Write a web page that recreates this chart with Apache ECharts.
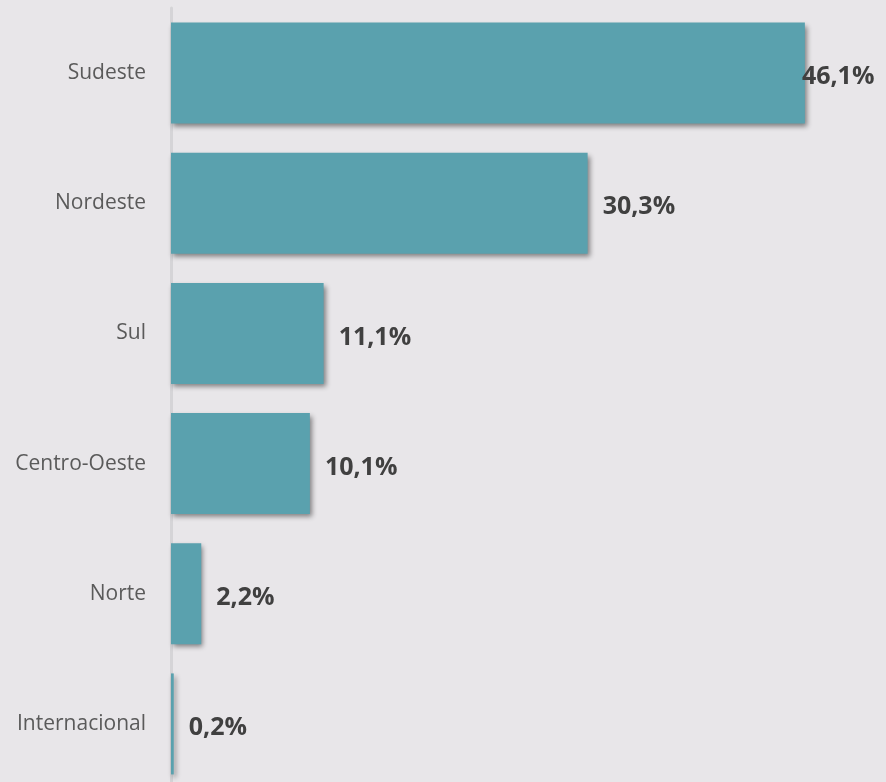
<!DOCTYPE html>
<html>
<head>
<meta charset="utf-8">
<script src="https://cdn.jsdelivr.net/npm/echarts@6/dist/echarts.min.js"></script>
<style>
  html, body { margin: 0; padding: 0; background: #e8e6e9; }
  #chart { width: 886px; height: 782px; }
</style>
</head>
<body>
<div id="chart"></div>
<script>
// Distribuição por região (%)
const regions = ['Sudeste', 'Nordeste', 'Sul', 'Centro-Oeste', 'Norte', 'Internacional'];
const shares = [46.1, 30.3, 11.1, 10.1, 2.2, 0.2];

const fmt = v => v.toFixed(1).replace('.', ',') + '%';

const chart = echarts.init(document.getElementById('chart'));

const data = shares.map((v, i) => {
  const item = { value: v };
  // o rótulo do maior valor encosta na barra (falta espaço à direita)
  if (i === 0) item.label = { distance: -3 };
  return item;
});

chart.setOption({
  backgroundColor: '#e8e6e9',
  animation: false,
  grid: {
    top: 8, height: 781, left: 171, right: 27.5,
    containLabel: false,
    outerBoundsMode: 'none'
  },
  xAxis: {
    type: 'value',
    min: 0,
    max: 50,
    show: false
  },
  yAxis: {
    type: 'category',
    inverse: true,
    data: regions,
    axisLine: { show: true, lineStyle: { color: '#d5d4d7', width: 3 } },
    axisTick: { show: false },
    axisLabel: {
      margin: 25,
      fontFamily: 'Open Sans',
      fontSize: 21,
      color: '#5a5a5a'
    }
  },
  series: [{
    type: 'bar',
    data: data,
    barWidth: 101,
    itemStyle: {
      color: '#5aa1ae',
      shadowColor: 'rgba(0,0,0,0.45)',
      shadowBlur: 5,
      shadowOffsetX: 2,
      shadowOffsetY: 3
    },
    label: {
      show: true,
      position: 'right',
      distance: 15,
      offset: [0, 4],
      formatter: p => fmt(p.value),
      fontFamily: 'Open Sans',
      fontWeight: 'bold',
      fontSize: 25,
      color: '#404040'
    }
  }]
});
</script>
</body>
</html>
